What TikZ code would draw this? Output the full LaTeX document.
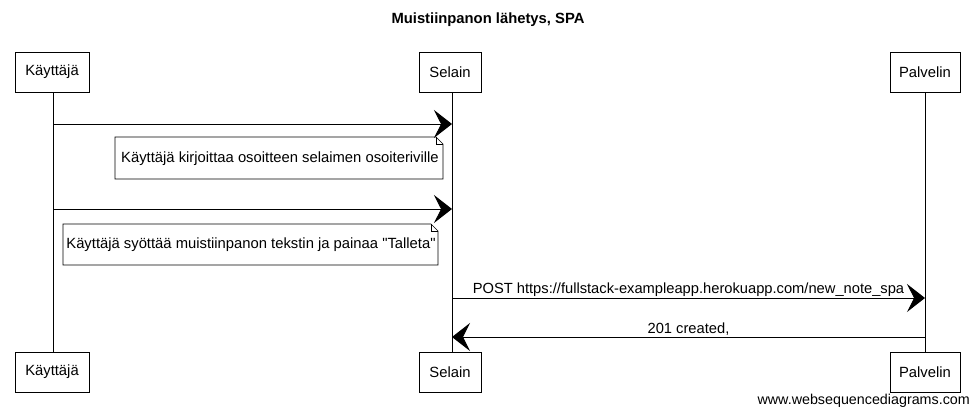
\documentclass[tikz,border=0pt]{standalone}
\usepackage{fontspec}
\setmainfont{Liberation Sans}[Ligatures=TeXOff]
\usetikzlibrary{arrows.meta}
\begin{document}
\begin{tikzpicture}[x=1pt,y=-1pt,
  actor/.style={draw,line width=0.8pt,minimum width=#1,minimum height=40pt,inner sep=0pt,font=\fontsize{14.8}{17}\selectfont},
  life/.style={line width=0.7pt},
  msg/.style={line width=1pt,-{Stealth[length=18pt,width=28pt,inset=7pt]}},
  lbl/.style={font=\fontsize{14.7}{17}\selectfont,inner sep=1pt},
  notetxt/.style={font=\fontsize{14.8}{17}\selectfont,inner sep=0pt}]
\useasboundingbox (0,0) rectangle (977,416);
\node[font=\bfseries\fontsize{14.8}{17}\selectfont] (title) at (488,20) {Muistiinpanon lähetys, SPA};
% actors top
\node[actor=74pt] (k1) at (52,72) {Käyttäjä};
\node[actor=62pt] (s1) at (450,72) {Selain};
\node[actor=70pt] (p1) at (925,72) {Palvelin};
% actors bottom
\node[actor=74pt] (k2) at (52,372) {Käyttäjä};
\node[actor=62pt] (s2) at (450,372) {Selain};
\node[actor=70pt] (p2) at (925,372) {Palvelin};
% lifelines
\draw[life] (k1.south) ++(1,0) coordinate (kt) -- (k2.north -| kt);
\draw[life] (s1.south) ++(2,0) coordinate (st) -- (s2.north -| st);
\draw[life] (p1.south) coordinate (pt) -- (p2.north);
% messages
\coordinate (a1s) at (53,124); \coordinate (a1e) at (452,124);
\draw[msg] (a1s) -- (a1e);
\draw[line width=0.7pt] (115,137) -- (436,137) -- (443,144) -- (443,179) -- (115,179) -- cycle;
\draw[line width=0.5pt] (436,137) -- (436,144) -- (443,144);
\node[notetxt] (n1) at (280,159) {Käyttäjä kirjoittaa osoitteen selaimen osoiteriville};
\coordinate (a2s) at (53,209); \coordinate (a2e) at (452,209);
\draw[msg] (a2s) -- (a2e);
\draw[line width=0.7pt] (63,224) -- (431,224) -- (438,231) -- (438,265) -- (63,265) -- cycle;
\draw[line width=0.5pt] (431,224) -- (431,231) -- (438,231);
\node[notetxt] (n2) at (251,245) {Käyttäjä syöttää muistiinpanon tekstin ja painaa "Talleta"};
\coordinate (a3s) at (452,298); \coordinate (a3e) at (925,298);
\draw[msg] (a3s) -- node[lbl,above,pos=0.5] {POST https://fullstack-exampleapp.herokuapp.com/new\_note\_spa} (a3e);
\coordinate (a4s) at (925,337); \coordinate (a4e) at (452,337);
\draw[msg] (a4s) -- node[lbl,above] {201 created,} (a4e);
\node[font=\fontsize{14.3}{16}\selectfont,anchor=east,inner sep=0pt] (wm) at (970,401) {www.websequencediagrams.com};
\end{tikzpicture}
\end{document}
